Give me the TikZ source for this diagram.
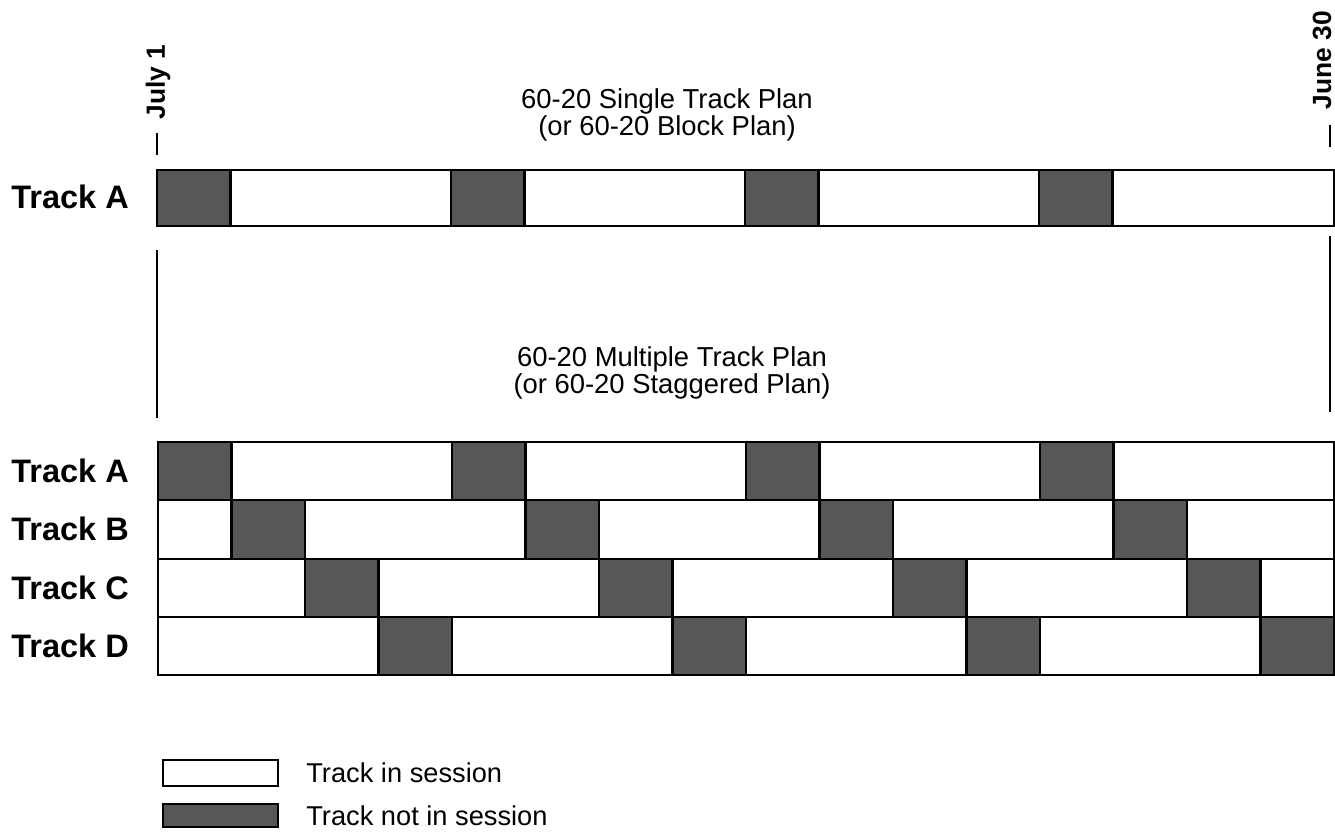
\documentclass[tikz,border=0pt]{standalone}
\usepackage{fontspec}
\setmainfont{Liberation Sans}

\begin{document}
\begin{tikzpicture}[x=0.2mm, y=-0.2mm, line join=miter,
    onblock/.style={draw=black, fill=white, line width=1.2pt},
    offblock/.style={draw=black, fill=black!66, line width=1.2pt},
    tracklabel/.style={anchor=west, inner sep=0pt, font=\fontsize{18.5}{20}\selectfont\bfseries},
    datelabel/.style={rotate=90, inner sep=0pt, font=\fontsize{15}{17}\selectfont\bfseries},
    plantitle/.style={align=center, inner sep=0pt, font=\fontsize{15.6}{15.2}\selectfont},
    legendtext/.style={anchor=west, inner sep=0pt, font=\fontsize{15.5}{18}\selectfont},
    markline/.style={line width=1.1pt}]

\useasboundingbox (0,0) rectangle (1335,835);

% datumy
\node[datelabel] (julyone) at (158,82) {July 1};
\node[datelabel] (junethirty) at (1322,60) {June 30};
\draw[markline] (157,133) -- (157,155);
\draw[markline] (1330,125) -- (1330,147);
\draw[markline] (157,250) -- (157,418);
\draw[markline] (1330,236) -- (1330,412);

% jedna stopa
\node[plantitle] (singletitle) at (667,115) {60-20 Single Track Plan\\(or 60-20 Block Plan)};
\draw[onblock] (157,170) rectangle (1334,226);
\foreach \j in {0,...,3}
  \draw[offblock] ({157+73.5*4*\j},170) rectangle ++(73.5,56);
\node[tracklabel] (singleA) at (11,197) {Track A};

% vice stop
\node[plantitle] (multititle) at (672,373) {60-20 Multiple Track Plan\\(or 60-20 Staggered Plan)};
\foreach \k/\name in {0/A,1/B,2/C,3/D} {
  \draw[onblock] (158,{442+58.3*\k}) rectangle (1334,{500.3+58.3*\k});
  \foreach \j in {0,...,3}
    \draw[offblock] ({158+73.5*(4*\j+\k)},{442+58.3*\k}) rectangle ++(73.5,58.3);
  \node[tracklabel] (multi\name) at (11,{471+58.3*\k}) {Track \name};
}

% legenda
\draw[onblock] (163,760) rectangle (278,786);
\draw[offblock] (163,804) rectangle (278,827);
\node[legendtext] (legendon) at (306,773) {Track in session};
\node[legendtext] (legendoff) at (306,816) {Track not in session};

\end{tikzpicture}
\end{document}
